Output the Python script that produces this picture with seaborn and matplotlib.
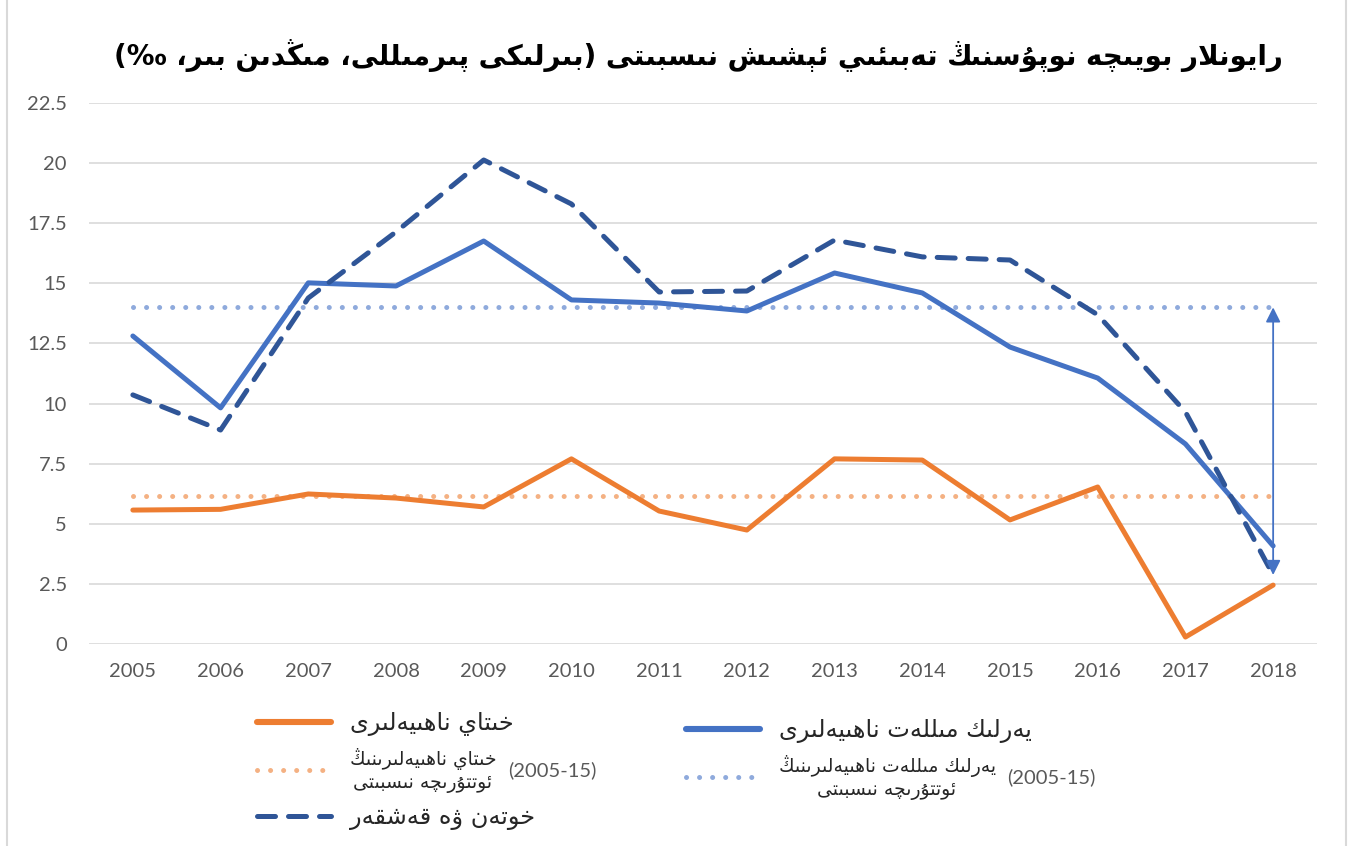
import matplotlib
matplotlib.use('Agg')
import matplotlib.pyplot as plt
from matplotlib.lines import Line2D
import seaborn as sns

# --- data ---
years = [2005, 2006, 2007, 2008, 2009, 2010, 2011, 2012, 2013, 2014, 2015, 2016, 2017, 2018]
chinese_counties = [5.57, 5.60, 6.24, 6.07, 5.70, 7.70, 5.53, 4.74, 7.70, 7.65, 5.16, 6.53, 0.29, 2.45]
native_counties = [12.81, 9.82, 15.02, 14.89, 16.76, 14.31, 14.18, 13.85, 15.43, 14.60, 12.35, 11.06, 8.32, 4.08]
hotan_kashgar = [10.36, 8.90, 14.39, 17.14, 20.13, 18.30, 14.64, 14.68, 16.80, 16.10, 15.97, 13.69, 9.65, 2.87]
chinese_avg = 6.15   # 2005-15 average, dotted line
native_avg = 14.0
y_ticks = [0, 2.5, 5, 7.5, 10, 12.5, 15, 17.5, 20, 22.5]

title = "رايونلار بويىچە نوپۇسنىڭ تەبىئىي ئېشىش نىسبىتى (بىرلىكى پىرمىللى، مىڭدىن بىر، ‰)"
lbl_chinese = "خىتاي ناھىيەلىرى"
lbl_native = "يەرلىك مىللەت ناھىيەلىرى"
lbl_chinese_avg = "خىتاي ناھىيەلىرىنىڭ\nئوتتۇرىچە نىسبىتى"
lbl_native_avg = "يەرلىك مىللەت ناھىيەلىرىنىڭ\nئوتتۇرىچە نىسبىتى"
lbl_hk = "خوتەن ۋە قەشقەر"
period = "(2005-15)"

# matplotlib 3.10 has no arabic shaping, so map letters to presentation forms
# and flip to visual order by hand
DUAL = {  # isolated, final, initial, medial
    'ب': (0xFE8F, 0xFE90, 0xFE91, 0xFE92), 'ت': (0xFE95, 0xFE96, 0xFE97, 0xFE98),
    'خ': (0xFEA5, 0xFEA6, 0xFEA7, 0xFEA8), 'س': (0xFEB1, 0xFEB2, 0xFEB3, 0xFEB4),
    'ش': (0xFEB5, 0xFEB6, 0xFEB7, 0xFEB8), 'ق': (0xFED5, 0xFED6, 0xFED7, 0xFED8),
    'ك': (0xFED9, 0xFEDA, 0xFEDB, 0xFEDC), 'ل': (0xFEDD, 0xFEDE, 0xFEDF, 0xFEE0),
    'م': (0xFEE1, 0xFEE2, 0xFEE3, 0xFEE4), 'ن': (0xFEE5, 0xFEE6, 0xFEE7, 0xFEE8),
    'ى': (0xFEEF, 0xFEF0, 0xFBE8, 0xFBE9), 'ي': (0xFEF1, 0xFEF2, 0xFEF3, 0xFEF4),
    'ئ': (0xFE89, 0xFE8A, 0xFE8B, 0xFE8C), 'پ': (0xFB56, 0xFB57, 0xFB58, 0xFB59),
    'چ': (0xFB7A, 0xFB7B, 0xFB7C, 0xFB7D), 'ڭ': (0xFBD3, 0xFBD4, 0xFBD5, 0xFBD6),
    'ھ': (0xFBAA, 0xFBAB, 0xFBAC, 0xFBAD), 'ه': (0xFEE9, 0xFEEA, 0xFEEB, 0xFEEC),
    'ې': (0xFBE4, 0xFBE5, 0xFBE6, 0xFBE7), 'گ': (0xFB92, 0xFB93, 0xFB94, 0xFB95),
}
RIGHT = {  # isolated, final
    'ا': (0xFE8D, 0xFE8E), 'د': (0xFEA9, 0xFEAA), 'ر': (0xFEAD, 0xFEAE),
    'و': (0xFEED, 0xFEEE), 'ۇ': (0xFBD7, 0xFBD8), 'ۋ': (0xFBDE, 0xFBDF),
    'ۆ': (0xFBD9, 0xFBDA), 'ۈ': (0xFBDB, 0xFBDC), 'ە': (0x06D5, 0xFEEA),
}


def shape_line(s):
    out = []
    i = 0
    while i < len(s):
        c = s[i]
        prev = s[i - 1] if i > 0 else ''
        nxt = s[i + 1] if i + 1 < len(s) else ''
        cp = prev in DUAL
        if c == 'ل' and nxt == 'ا':
            out.append(chr(0xFEFC if cp else 0xFEFB))
            i += 2
            continue
        if c in DUAL:
            cn = nxt in DUAL or nxt in RIGHT
            f = DUAL[c]
            out.append(chr(f[3] if cp and cn else f[1] if cp else f[2] if cn else f[0]))
        elif c in RIGHT:
            out.append(chr(RIGHT[c][1] if cp else RIGHT[c][0]))
        else:
            out.append(c)
        i += 1
    vis = ''.join(reversed(out))
    return vis.translate(str.maketrans('()', ')('))


def rtl(s):
    return '\n'.join(shape_line(line) for line in s.split('\n'))


# --- colours ---
c_orange = '#ED7D31'
c_blue = '#4472C4'
c_dark = '#2F5597'
c_orange_lt = '#F4B183'
c_blue_lt = '#8FAADC'

sns.set_theme(style='white')
plt.rcParams['font.family'] = ['Lato', 'DejaVu Sans']

fig = plt.figure(figsize=(13.49, 8.46), dpi=100)
ax = fig.add_axes([89 / 1349, 1 - 644 / 846, 1228 / 1349, 541 / 846])

dots = (0, (0.01, 2.6))
sns.lineplot(x=years, y=[native_avg] * len(years), ax=ax, color=c_blue_lt, lw=3.6,
             linestyle=dots, dash_capstyle='round', label=rtl(lbl_native_avg))
sns.lineplot(x=years, y=[chinese_avg] * len(years), ax=ax, color=c_orange_lt, lw=3.6,
             linestyle=dots, dash_capstyle='round', label=rtl(lbl_chinese_avg))
sns.lineplot(x=years, y=chinese_counties, ax=ax, color=c_orange, lw=3.6,
             solid_capstyle='round', label=rtl(lbl_chinese))
sns.lineplot(x=years, y=native_counties, ax=ax, color=c_blue, lw=3.6,
             solid_capstyle='round', label=rtl(lbl_native))
sns.lineplot(x=years, y=hotan_kashgar, ax=ax, color=c_dark, lw=3.6,
             linestyle=(0, (3.6, 2.6)), dash_capstyle='round', label=rtl(lbl_hk))

# double arrow from the indigenous average down to Hotan/Kashgar 2018
ax.annotate('', xy=(years[-1], hotan_kashgar[-1]), xytext=(years[-1], native_avg),
            arrowprops=dict(arrowstyle='<|-|>', color=c_blue, lw=1.3,
                            mutation_scale=22, shrinkA=0, shrinkB=0))

ax.set_xlim(years[0] - 0.5, years[-1] + 0.5)
ax.set_ylim(0, 22.5)
ax.set_xticks(years)
ax.set_yticks(y_ticks)
ax.set_yticklabels([f'{v:g}' for v in y_ticks])
ax.grid(axis='y', color='#D9D9D9', lw=1.2)
ax.grid(axis='x', visible=False)
for s in ax.spines.values():
    s.set_visible(False)
ax.tick_params(axis='both', length=0, labelsize=14.5, labelcolor='#595959')
ax.tick_params(axis='x', pad=14)
ax.tick_params(axis='y', pad=16)
ax.set_xlabel('')
ax.set_ylabel('')

# --- legend: two hand-anchored columns ---
h, l = ax.get_legend_handles_labels()
hd = dict(zip(l, h))
col1 = [rtl(lbl_chinese), rtl(lbl_chinese_avg), rtl(lbl_hk)]
col2 = [rtl(lbl_native), rtl(lbl_native_avg)]
ax.get_legend().remove()
leg_kw = dict(frameon=False, loc='upper left', bbox_transform=fig.transFigure,
              handlelength=3.1, handletextpad=0.75, fontsize=17.3, borderpad=0,
              borderaxespad=0, labelspacing=0.5)
leg1 = ax.legend([hd[k] for k in col1], col1, bbox_to_anchor=(257 / 1349, 1 - 711 / 846), **leg_kw)
ax.add_artist(leg1)
leg2 = ax.legend([hd[k] for k in col2], col2, bbox_to_anchor=(686 / 1349, 1 - 718 / 846), **leg_kw)
for leg in (leg1, leg2):
    for txt in leg.get_texts():
        txt.set_family('DejaVu Sans')
    # thicker solid samples, dashed/dotted keep their pattern
    leg.get_lines()[0].set_linewidth(4.4)
    t = leg.get_texts()[1]
    t.set_fontsize(13.5)
    t.set_multialignment('center')

fig.text(0.518, 1 - 55 / 846, rtl(title), ha='center', va='center', fontsize=20,
         fontweight='bold', family='DejaVu Sans', color='black')

# thin grey side edges of the chart area
for xe in (7 / 1349, 1346 / 1349):
    fig.add_artist(Line2D([xe, xe], [0, 1], transform=fig.transFigure, color='#D9D9D9', lw=1.5))

# "(2005-15)" sits to the right of the two-line average labels
fig.canvas.draw()
for leg in (leg1, leg2):
    bb = leg.get_texts()[1].get_window_extent()
    fig.text((bb.x1 + 12) / fig.bbox.width, (bb.y0 + bb.y1) / 2 / fig.bbox.height, period,
             ha='left', va='center', fontsize=14.5, color='#595959')

fig.savefig('out.png', dpi=100)
